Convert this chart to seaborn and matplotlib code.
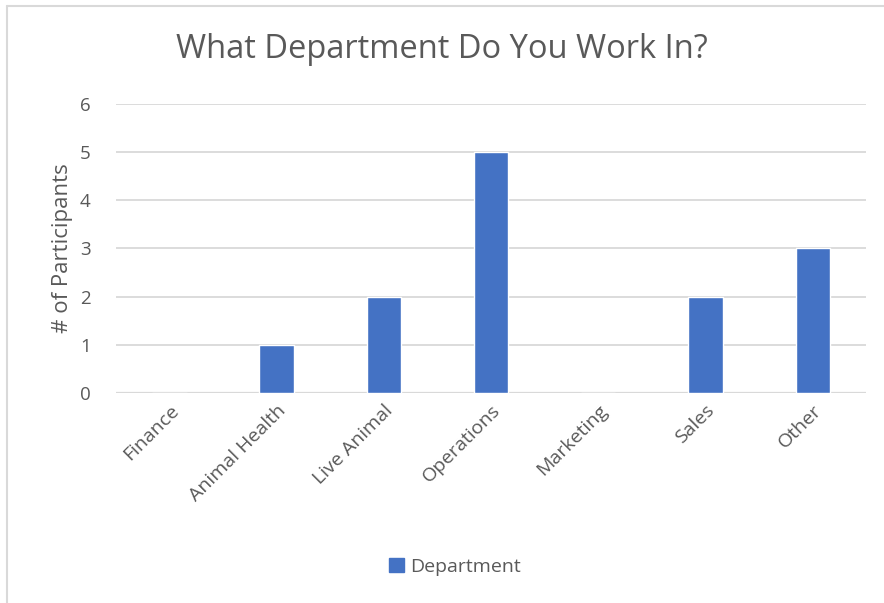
import matplotlib
matplotlib.use("Agg")
import matplotlib.pyplot as plt
from matplotlib.lines import Line2D
from matplotlib.patches import Patch
import seaborn as sns
import pandas as pd

departments = ["Finance", "Animal Health", "Live Animal", "Operations",
               "Marketing", "Sales", "Other"]
participants = [0, 1, 2, 5, 0, 2, 3]
y_ticks = [0, 1, 2, 3, 4, 5, 6]

sns.set_theme(style="white")
plt.rcParams["font.family"] = ["Open Sans", "DejaVu Sans"]

TEXT = "#595959"
GRID = "#d9d9d9"
BAR = "#4472C4"

df = pd.DataFrame({"Department": departments, "Participants": participants})

fig = plt.figure(figsize=(8.84, 6.03), dpi=100)
ax = fig.add_axes([0.131, 0.3483, 0.849, 0.4792])

sns.barplot(data=df, x="Department", y="Participants", color=BAR,
            width=0.32, saturation=1, ax=ax, zorder=3)

ax.set_ylim(0, 6)
ax.set_yticks(y_ticks)
ax.set_xlim(-0.5, len(departments) - 0.5)
ax.yaxis.grid(True, color=GRID, linewidth=1.3, zorder=0)
ax.set_axisbelow(True)
for s in ax.spines.values():
    s.set_visible(False)
ax.axhline(0, color=GRID, linewidth=1.6, zorder=2)

ax.tick_params(axis="both", length=0, colors=TEXT)
ax.tick_params(axis="y", pad=18, labelsize=13.5)
ax.tick_params(axis="x", pad=6, labelsize=14)
for lbl in ax.get_xticklabels():
    lbl.set_rotation(45)
    lbl.set_ha("right")
    lbl.set_rotation_mode("anchor")
    lbl.set_color(TEXT)

ax.set_xlabel("")
ax.set_ylabel("# of Participants", color=TEXT, fontsize=16, labelpad=5)

fig.text(0.5, 0.918, "What Department Do You Work In?", ha="center",
         va="center", fontsize=23.5, color=TEXT)

handles = [Patch(facecolor=BAR, edgecolor=BAR, label="Department")]
fig.legend(handles=handles, loc="center", bbox_to_anchor=(0.515, 0.06),
           frameon=False, fontsize=14, labelcolor=TEXT,
           handlelength=0.75, handleheight=0.75, handletextpad=0.35)

# chart frame edges (top and left)
fig.add_artist(Line2D([6.5 / 884, 1.0], [1 - 5.5 / 603, 1 - 5.5 / 603],
                      transform=fig.transFigure, color=GRID, linewidth=1.5))
fig.add_artist(Line2D([6.5 / 884, 6.5 / 884], [0.0, 1 - 5.5 / 603],
                      transform=fig.transFigure, color=GRID, linewidth=1.5))

fig.savefig("out.png", dpi=100, facecolor="white")
